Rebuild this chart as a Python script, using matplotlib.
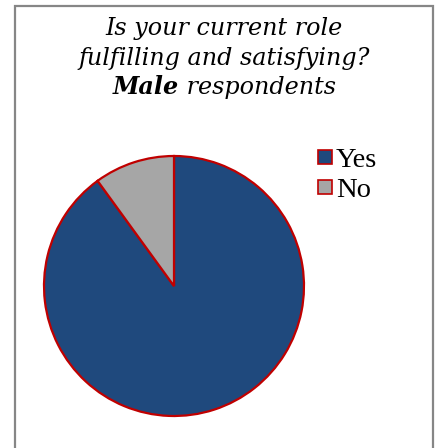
import matplotlib
matplotlib.use("Agg")
import matplotlib.pyplot as plt
from matplotlib.patches import Rectangle

categories = ["Yes", "No"]
values = [90, 10]
colors = ["#1f497d", "#a6a6a6"]
edge_color = "#c00000"

title_lines = ["Is your current role", "fulfilling and satisfying?"]
title_bold = "Male"
title_rest = " respondents"

W, H = 439, 448
fig = plt.figure(figsize=(W / 100, H / 100), dpi=100)
fig.patch.set_facecolor("white")


def fx(px):
    return px / W


def fy(py):
    return 1 - py / H


# chart frame
fig.patches.append(Rectangle((fx(15), -0.05), fx(433) - fx(15), fy(6) + 0.05,
                             transform=fig.transFigure, fill=False,
                             edgecolor="#868686", linewidth=1.6))

# pie
ax = fig.add_axes([fx(44), fy(416), fx(260), 260 / H])
ax.pie(values, colors=colors, startangle=90, counterclock=False,
       wedgeprops=dict(edgecolor=edge_color, linewidth=1.6))
ax.set_xlim(-1.0, 1.0)
ax.set_ylim(-1.0, 1.0)
ax.set_aspect("equal")
ax.axis("off")

# title
tfont = dict(family="DejaVu Serif", size=17.2, style="italic")
cx = 224
baselines = [35, 65, 94]
for line, y in zip(title_lines, baselines):
    fig.text(fx(cx), fy(y), line, ha="center", va="baseline", **tfont)

fig.canvas.draw()
r = fig.canvas.get_renderer()
t1 = fig.text(0, fy(baselines[2]), title_bold, ha="left", va="baseline",
              weight="bold", **tfont)
t2 = fig.text(0, fy(baselines[2]), title_rest, ha="left", va="baseline", **tfont)
w1 = t1.get_window_extent(r).width
w2 = t2.get_window_extent(r).width
x0 = cx - (w1 + w2) / 2
t1.set_x(fx(x0))
t2.set_x(fx(x0 + w1))

# legend
leg_font = dict(family="Liberation Serif", size=20.5)
leg_rows = [157, 187]
for label, color, yc in zip(categories, colors, leg_rows):
    fig.patches.append(Rectangle((fx(318), fy(yc + 7)), fx(14), 14 / H,
                                 transform=fig.transFigure, facecolor=color,
                                 edgecolor=edge_color, linewidth=1.2))
    fig.text(fx(336), fy(yc + 10), label, ha="left", va="baseline", **leg_font)

fig.savefig("out.png", dpi=100, facecolor="white")
